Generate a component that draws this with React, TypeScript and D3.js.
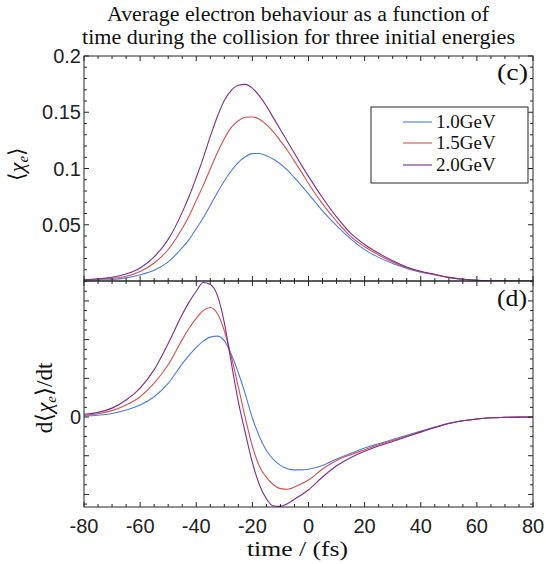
import React from "react";
import * as d3 from "d3";

// ---------- data ----------
const seriesNames = ["1.0GeV", "1.5GeV", "2.0GeV"];
const seriesColors = ["#4a7be6", "#d4504c", "#7a2e8c"];

// shared time grid (fs)
const time = [-80, -75, -70, -65, -60, -55, -50, -45, -42.5, -40, -37.5, -35, -32.5, -30, -27.5, -25, -22.5, -20, -17.5, -15, -12.5, -10, -7.5, -5, -2.5, 0, 5, 10, 15, 20, 25, 30, 35, 40, 45, 50, 55, 60, 65, 70, 75, 80];

// top panel: <chi_e>
const chiBlue = [0.0007, 0.001, 0.0014, 0.0028, 0.0055, 0.0096, 0.017, 0.0296, 0.037, 0.0464, 0.0562, 0.0672, 0.0785, 0.0889, 0.098, 0.1055, 0.1105, 0.1132, 0.1134, 0.1113, 0.1082, 0.104, 0.0985, 0.0918, 0.0848, 0.0775, 0.0623, 0.0492, 0.0374, 0.0279, 0.021, 0.0155, 0.0112, 0.0079, 0.0055, 0.0031, 0.0015, 0.0006, 0.0003, 0.0001, 0.00005, 0];
const chiRed = [0.001, 0.0016, 0.0024, 0.0042, 0.0085, 0.016, 0.028, 0.0466, 0.058, 0.0716, 0.085, 0.0996, 0.114, 0.1265, 0.1365, 0.1425, 0.1455, 0.1458, 0.1438, 0.139, 0.1325, 0.1245, 0.116, 0.1065, 0.0968, 0.0867, 0.0686, 0.0531, 0.0397, 0.0305, 0.0232, 0.0168, 0.0117, 0.0083, 0.0057, 0.0032, 0.0015, 0.0006, 0.0003, 0.0001, 0.00005, 0];
const chiPurple = [0.001, 0.002, 0.0033, 0.0063, 0.0116, 0.0214, 0.037, 0.061, 0.0755, 0.092, 0.1095, 0.1285, 0.146, 0.1605, 0.1695, 0.174, 0.1748, 0.1715, 0.1645, 0.1555, 0.145, 0.1345, 0.124, 0.1135, 0.103, 0.093, 0.074, 0.057, 0.0426, 0.0325, 0.0247, 0.018, 0.0125, 0.0087, 0.006, 0.0032, 0.0015, 0.0006, 0.0003, 0.0001, 0.00005, 0];

// bottom panel: d<chi_e>/dt (units of 1e-3 per fs)
const dBlue = [0.05, 0.09, 0.18, 0.36, 0.62, 1.05, 1.74, 2.75, 3.2, 3.6, 3.92, 4.13, 4.18, 3.95, 3.23, 2.29, 1.17, -0.05, -1.01, -1.73, -2.19, -2.5, -2.67, -2.73, -2.73, -2.7, -2.5, -2.17, -1.88, -1.6, -1.38, -1.16, -0.94, -0.73, -0.52, -0.33, -0.19, -0.1, -0.04, -0.02, -0.005, 0];
const dRed = [0.09, 0.17, 0.33, 0.62, 1.05, 1.75, 2.7, 4.0, 4.6, 5.1, 5.5, 5.66, 5.35, 4.46, 3.12, 1.56, -0.06, -1.51, -2.54, -3.12, -3.5, -3.7, -3.73, -3.62, -3.45, -3.25, -2.69, -2.25, -1.95, -1.69, -1.43, -1.21, -0.99, -0.76, -0.54, -0.33, -0.19, -0.1, -0.04, -0.02, -0.005, 0];
const dPurple = [0.14, 0.24, 0.46, 0.88, 1.5, 2.45, 3.8, 5.3, 5.95, 6.5, 6.95, 6.85, 6.3, 4.88, 2.8, 0.78, -0.83, -2.35, -3.5, -4.22, -4.6, -4.62, -4.48, -4.25, -4.02, -3.76, -3.1, -2.52, -2.1, -1.77, -1.5, -1.26, -1.02, -0.78, -0.54, -0.33, -0.19, -0.1, -0.04, -0.02, -0.005, 0];

const xTickValues = [-80, -60, -40, -20, 0, 20, 40, 60, 80];
const topTickValues = [0.05, 0.1, 0.15, 0.2];
const topTickLabels = ["0.05", "0.1", "0.15", "0.2"];
const titleLines = ["Average electron behaviour as a function of", "time during the collision for three initial energies"];

// ---------- layout ----------
const W = 546, H = 564;
const L = 84, R = 533;
const T0 = 56, MID = 281, B1 = 507;

const x = d3.scaleLinear().domain([-80, 80]).range([L, R]);
const yTop = d3.scaleLinear().domain([0, 0.2]).range([MID, T0]);
const yBot = d3.scaleLinear().domain([-4.65, 7.03]).range([B1, MID]);

const SERIF = "Liberation Serif";
const SANS = "Liberation Sans";
const axisColor = "#262626";

function Ticks({ y0, y1, yScale, yMajor, yMinor }: any) {
  const out: any[] = [];
  const xMinor = d3.range(-80, 81, 5);
  xMinor.forEach((t) => {
    const len = t % 20 === 0 ? 5 : 3;
    const xx = x(t);
    out.push(<line key={`xb${t}`} x1={xx} x2={xx} y1={y1} y2={y1 - len} />);
    out.push(<line key={`xt${t}`} x1={xx} x2={xx} y1={y0} y2={y0 + len} />);
  });
  yMinor.forEach((v: number, i: number) => {
    const yy = yScale(v);
    out.push(<line key={`yl${i}`} x1={L} x2={L + 3} y1={yy} y2={yy} />);
    out.push(<line key={`yr${i}`} x1={R} x2={R - 3} y1={yy} y2={yy} />);
  });
  yMajor.forEach((v: number, i: number) => {
    const yy = yScale(v);
    out.push(<line key={`yL${i}`} x1={L} x2={L + 5} y1={yy} y2={yy} />);
    out.push(<line key={`yR${i}`} x1={R} x2={R - 5} y1={yy} y2={yy} />);
  });
  return <g stroke={axisColor} strokeWidth={1}>{out}</g>;
}

export default function App() {
  const lineTop = d3.line<number>().x((_, i) => x(time[i])).y((d) => yTop(d)).curve(d3.curveMonotoneX);
  const lineBot = d3.line<number>().x((_, i) => x(time[i])).y((d) => yBot(d)).curve(d3.curveMonotoneX);
  const topSeries = [chiBlue, chiRed, chiPurple];
  const botSeries = [dBlue, dRed, dPurple];

  const topMinor = d3.range(1, 20).filter((k) => k % 5 !== 0).map((k) => k * 0.01);
  const topMajor = [0.05, 0.1, 0.15, 0.2];
  const botMajor = [-4, -2, 0, 2, 4, 6];
  const botMinor = d3.range(-9, 15).filter((k) => k % 4 !== 0).map((k) => k * 0.5);

  const legendRows = [122, 143, 165];

  return (
    <svg width={W} height={H} style={{ position: "absolute", left: 0, top: 0, background: "#fff" }}>
      <defs>
        <clipPath id="clipTop"><rect x={L} y={T0} width={R - L} height={MID - T0} /></clipPath>
        <clipPath id="clipBot"><rect x={L} y={MID} width={R - L} height={B1 - MID} /></clipPath>
      </defs>
      <rect x={0} y={0} width={W} height={H} fill="#fff" />

      {/* title */}
      <text x={298} y={21} fontFamily={SERIF} fontSize={20} fill="#111" textAnchor="middle" textLength={382} lengthAdjust="spacingAndGlyphs">{titleLines[0]}</text>
      <text x={298.5} y={44} fontFamily={SERIF} fontSize={20} fill="#111" textAnchor="middle" textLength={433} lengthAdjust="spacingAndGlyphs">{titleLines[1]}</text>

      {/* curves */}
      <g clipPath="url(#clipTop)" fill="none" strokeWidth={1.1}>
        {topSeries.map((s, i) => <path key={i} d={lineTop(s) || ""} stroke={seriesColors[i]} />)}
      </g>
      <g clipPath="url(#clipBot)" fill="none" strokeWidth={1.1}>
        {botSeries.map((s, i) => <path key={i} d={lineBot(s) || ""} stroke={seriesColors[i]} />)}
      </g>

      {/* frames */}
      <rect x={L} y={T0} width={R - L} height={MID - T0} fill="none" stroke={axisColor} strokeWidth={1} />
      <rect x={L} y={MID} width={R - L} height={B1 - MID} fill="none" stroke={axisColor} strokeWidth={1} />
      <Ticks y0={T0} y1={MID} yScale={yTop} yMajor={topMajor} yMinor={topMinor} />
      <Ticks y0={MID} y1={B1} yScale={yBot} yMajor={botMajor} yMinor={botMinor} />

      {/* tick labels */}
      <g fontFamily={SANS} fontSize={20} fill="#222" textAnchor="end">
        {topTickValues.map((v, i) => (
          <text key={i} x={81} y={yTop(v) + 7}>{topTickLabels[i]}</text>
        ))}
        <text x={81} y={yBot(0) + 7}>0</text>
      </g>
      <g fontFamily={SANS} fontSize={20} fill="#222" textAnchor="middle">
        {xTickValues.map((t) => (
          <text key={t} x={x(t)} y={533}>{String(t)}</text>
        ))}
      </g>

      {/* axis labels */}
      <text x={297.5} y={556} fontFamily={SERIF} fontSize={22} fill="#111" textAnchor="middle" textLength={101} lengthAdjust="spacingAndGlyphs">time / (fs)</text>
      <text transform={`translate(24,${164}) rotate(-90)`} fontFamily={SERIF} fontSize={22} fill="#111" textAnchor="middle">
        ⟨<tspan fontStyle="italic">χ</tspan><tspan fontStyle="italic" fontSize={15} dy={4}>e</tspan><tspan dy={-4}>⟩</tspan>
      </text>
      <text transform={`translate(52,${398}) rotate(-90)`} fontFamily={SERIF} fontSize={23} fill="#111" textAnchor="middle">
        d⟨<tspan fontStyle="italic">χ</tspan><tspan fontStyle="italic" fontSize={15} dy={4}>e</tspan><tspan dy={-4}>⟩/dt</tspan>
      </text>

      {/* panel labels */}
      <text x={528} y={80} fontFamily={SERIF} fontSize={23} fill="#111" textAnchor="end" textLength={31} lengthAdjust="spacingAndGlyphs">(c)</text>
      <text x={527} y={306} fontFamily={SERIF} fontSize={23} fill="#111" textAnchor="end" textLength={30} lengthAdjust="spacingAndGlyphs">(d)</text>

      {/* legend */}
      <rect x={371} y={107} width={157} height={76} fill="#fff" stroke={axisColor} strokeWidth={1} />
      {seriesNames.map((n, i) => (
        <g key={n}>
          <line x1={403} x2={432} y1={legendRows[i]} y2={legendRows[i]} stroke={seriesColors[i]} strokeWidth={1.1} />
          <text x={436} y={legendRows[i] + 6} fontFamily={SERIF} fontSize={19} fill="#111">{n}</text>
        </g>
      ))}
    </svg>
  );
}
